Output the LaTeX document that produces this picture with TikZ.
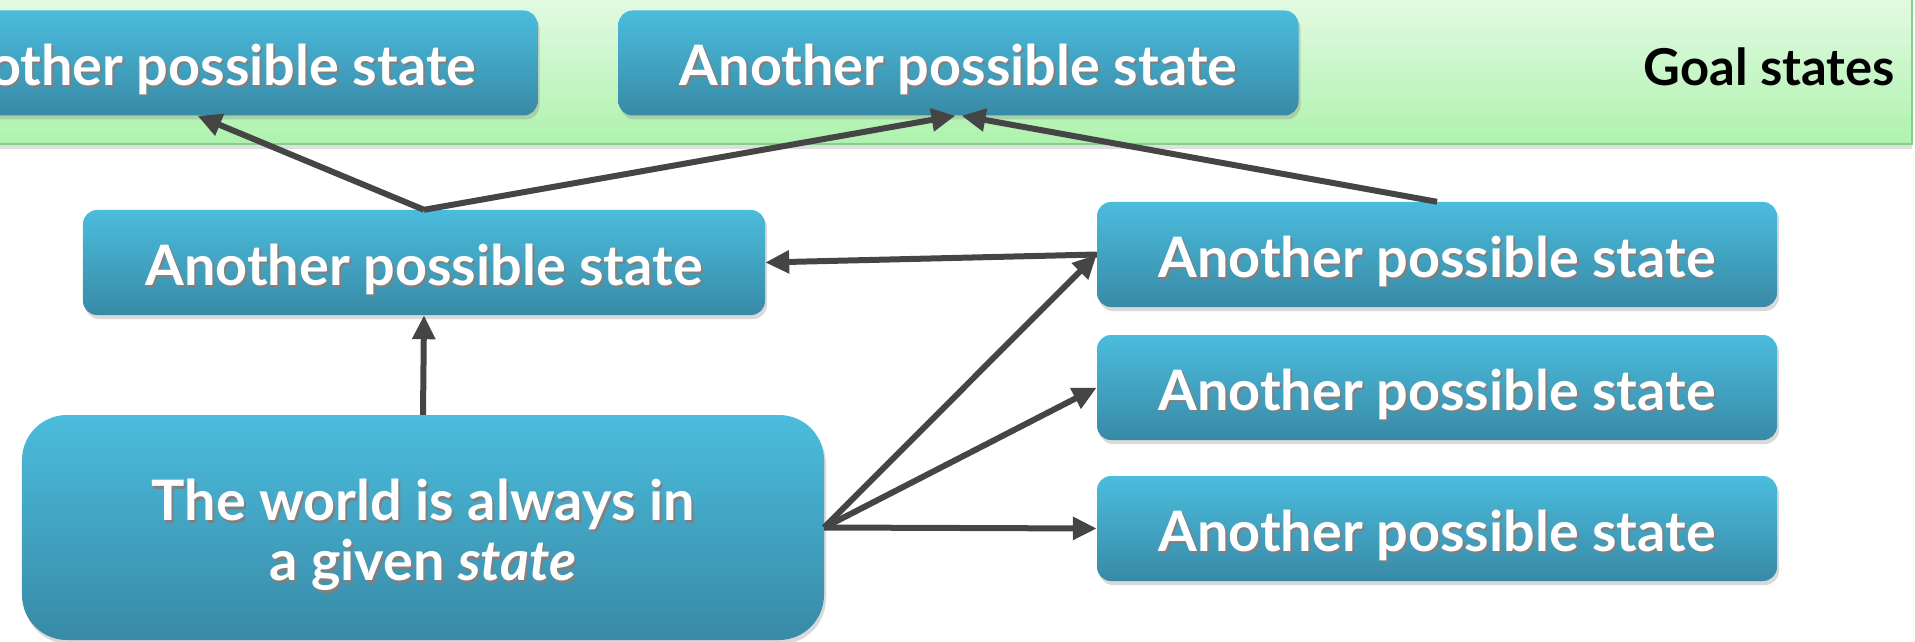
\documentclass[tikz,border=0pt]{standalone}
\usepackage{fontspec}
\setmainfont{Lato}
\usetikzlibrary{arrows.meta,shadows}
\definecolor{boxtop}{HTML}{4BBCDD}
\definecolor{boxbot}{HTML}{388AA6}
\definecolor{gtop}{HTML}{E9FBE9}
\definecolor{gbot}{HTML}{AEF2AE}
\definecolor{gline}{HTML}{88CE88}
\definecolor{arrcol}{HTML}{454545}
\newcommand\shtxt[1]{\leavevmode\rlap{\hspace{2bp}\raisebox{-2.5bp}{\color{black!50}#1}}#1}
\tikzset{
  statebox/.style={rounded corners=14bp, top color=boxtop, bottom color=boxbot, draw=none,
    text=white, font=\fontsize{56}{60}\selectfont\bfseries, minimum width=680bp,
    minimum height=105bp, inner sep=0pt, text height=45bp, text depth=0bp,
    drop shadow={shadow xshift=2bp, shadow yshift=-4bp, opacity=0.3}},
  conn/.style={draw=arrcol, line width=6bp, -{Triangle[length=24bp,width=22bp]}},
}
\begin{document}
\begin{tikzpicture}[x=1bp,y=-1bp]
\useasboundingbox (0,0) rectangle (1915,642);
\clip (0,0) rectangle (1915,642);
% goal band
\path[top color=gtop, bottom color=gbot, draw=gline, line width=2bp,
  drop shadow={shadow xshift=0bp, shadow yshift=-5bp, opacity=0.25}]
  (-20,-20) rectangle (1912,144);
\node[anchor=base east, inner sep=0pt, font=\fontsize{51}{60}\selectfont\bfseries, text=black] (goal) at (1895,86) {Goal states};
% goal boxes
\node[statebox] (g1) at (197.5,63) {\shtxt{Another possible state}};
\node[statebox] (g2) at (958.5,63) {\shtxt{Another possible state}};
% middle
\node[statebox, minimum width=682bp] (ml) at (424,262.5) {\shtxt{Another possible state}};
\node[statebox] (r1) at (1437,254.5) {\shtxt{Another possible state}};
\node[statebox] (r2) at (1437,387.5) {\shtxt{Another possible state}};
\node[statebox] (r3) at (1437,528.5) {\shtxt{Another possible state}};
% big box
\node[statebox, rounded corners=45bp, minimum width=802bp, minimum height=225bp, align=center,
  font=\fontsize{56}{60}\selectfont\bfseries, text height=106bp, text depth=0bp] (big) at (423,527.5)
  {\shtxt{The world is always in}\\\shtxt{a given \textit{state}}};
% connectors
\draw[conn] (ml.north) -- (g1.south);
\draw[conn] (ml.north) -- ([xshift=-3bp]g2.south);
\draw[conn] (r1.north) -- ([xshift=3bp]g2.south);
\draw[conn] (big.north) -- (ml.south);
\draw[conn] (r1.west) -- (ml.east);
\draw[conn] (big.east) -- (r1.west);
\draw[conn] (big.east) -- (r2.west);
\draw[conn] (big.east) -- (r3.west);
\end{tikzpicture}
\end{document}
